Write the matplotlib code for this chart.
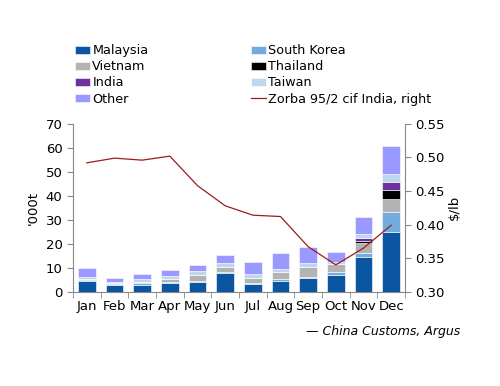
import matplotlib
matplotlib.use("Agg")
import matplotlib.pyplot as plt
import numpy as np

months = ["Jan", "Feb", "Mar", "Apr", "May", "Jun", "Jul", "Aug", "Sep", "Oct", "Nov", "Dec"]
malaysia = [4.3, 3.0, 2.8, 3.6, 4.0, 7.7, 3.1, 4.6, 5.6, 7.0, 14.4, 25.1]
south_korea = [0.5, 0.3, 0.7, 0.4, 0.6, 0.5, 0.4, 0.6, 0.7, 1.2, 1.9, 8.3]
vietnam = [0.3, 0.2, 0.5, 1.3, 2.5, 2.2, 2.3, 2.9, 3.9, 3.4, 3.9, 5.4]
thailand = [0, 0, 0, 0, 0, 0, 0, 0, 0, 0, 1.1, 3.7]
india = [0, 0, 0, 0, 0, 0, 0, 0, 0, 0, 1.0, 3.4]
taiwan = [1.2, 0.6, 1.2, 1.4, 1.4, 1.4, 1.4, 1.2, 1.9, 0.9, 1.8, 3.2]
other = [3.5, 1.5, 2.2, 2.4, 2.5, 3.5, 5.3, 6.7, 6.7, 4.2, 7.2, 11.7]
zorba = [0.492, 0.499, 0.496, 0.502, 0.458, 0.428, 0.414, 0.412, 0.367, 0.340, 0.365, 0.399]

series = [
    ("Malaysia", malaysia, "#0a56a0"),
    ("South Korea", south_korea, "#72acdc"),
    ("Vietnam", vietnam, "#b3b3b3"),
    ("Thailand", thailand, "#000000"),
    ("India", india, "#7030a0"),
    ("Taiwan", taiwan, "#bdd7ee"),
    ("Other", other, "#9999ff"),
]

plt.rcParams['font.family'] = ['DejaVu Sans']
fig = plt.figure(figsize=(5, 3.86), dpi=100)
ax = fig.add_axes([0.146, 0.2443, 0.664, 0.4347])
x = np.arange(len(months))
bottom = np.zeros(len(months))
handles = []
for name, vals, col in series:
    v = np.array(vals, dtype=float)
    b = ax.bar(x, v, 0.65, bottom=bottom, color=col, edgecolor="white", linewidth=0.4, label=name)
    handles.append(b)
    bottom += v

ax.set_xlim(-0.5, 11.5)
ax.set_ylim(0, 70)
ax.set_yticks(range(0, 71, 10))
ax.set_xticks(x)
ax.set_xticklabels(months, fontsize=9.5)
ax.set_xticks(np.arange(-0.5, 12, 1), minor=True)
ax.tick_params(axis='x', which='major', length=0, pad=6)
ax.tick_params(axis='x', which='minor', length=4, color="#888888", direction='out')
ax.tick_params(axis='y', labelsize=9.5, length=4, color="#888888")
ax.set_ylabel("'000t", fontsize=9.5, labelpad=4)
for s in ["top", "right"]:
    ax.spines[s].set_visible(False)
for s in ["left", "bottom"]:
    ax.spines[s].set_color("#888888")

ax2 = ax.twinx()
line, = ax2.plot(x, zorba, color="#9b1c1c", linewidth=0.9, label="Zorba 95/2 cif India, right")
ax2.set_ylim(0.30, 0.55)
ax2.set_yticks(np.arange(0.30, 0.551, 0.05))
ax2.set_yticklabels([f"{v:.2f}" for v in np.arange(0.30, 0.551, 0.05)])
ax2.tick_params(axis='y', labelsize=9.5, length=4, color="#888888")
ax2.set_ylabel("$/lb", fontsize=9.5, labelpad=2)
for s in ["top", "left", "bottom"]:
    ax2.spines[s].set_visible(False)
ax2.spines["right"].set_color("#888888")

labels = ["Malaysia", "South Korea", "Vietnam", "Thailand", "India", "Taiwan", "Other", "Zorba 95/2 cif India, right"]
order = handles + [line]
col1 = [order[0], order[2], order[4], order[6]]
col2 = [order[1], order[3], order[5], order[7]]
lab1 = [labels[0], labels[2], labels[4], labels[6]]
lab2 = [labels[1], labels[3], labels[5], labels[7]]
fig.legend(col1 + col2, lab1 + lab2, ncol=2, loc="upper left", bbox_to_anchor=(0.14, 0.899),
           frameon=False, fontsize=9.2, handlelength=1.2, handleheight=0.6, handletextpad=0.15,
           columnspacing=8.0, labelspacing=0.25, borderaxespad=0)

fig.text(0.92, 0.14, "\u2014 China Customs, Argus", ha="right", va="center", fontsize=9, style="italic")

fig.savefig("out.png", dpi=100)
